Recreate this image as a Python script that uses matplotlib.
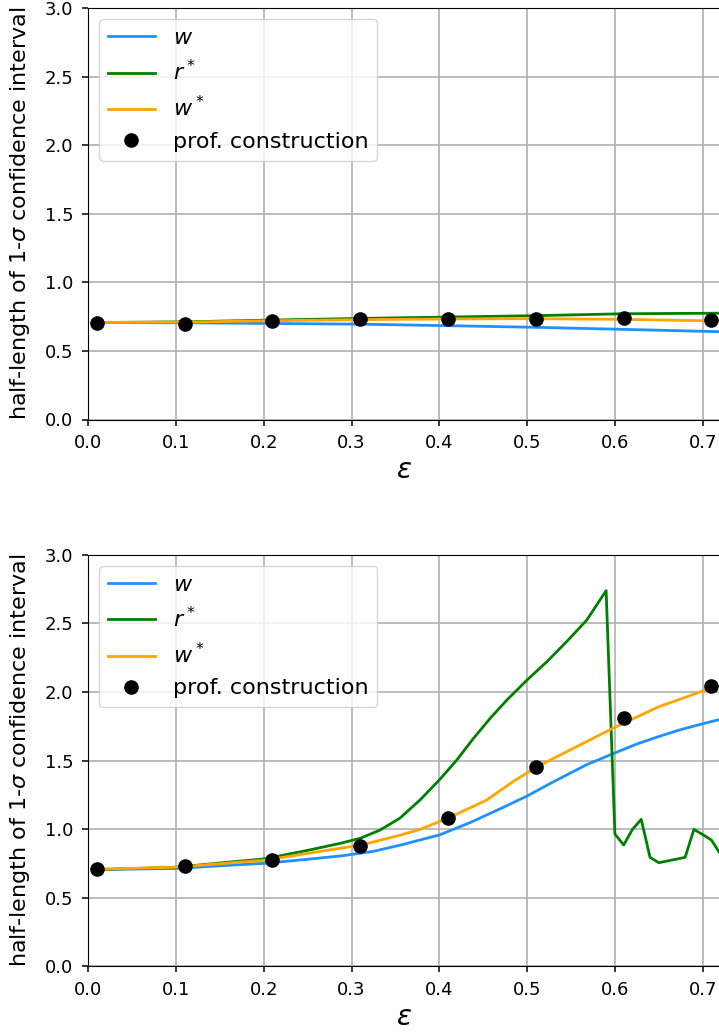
import numpy as np
import matplotlib
matplotlib.use("Agg")
import matplotlib.pyplot as plt

# ---------------- data: top panel ----------------
x_top_line = [0.01, 0.11, 0.21, 0.31, 0.41, 0.51, 0.61, 0.72]
top_w = [0.707, 0.705, 0.700, 0.695, 0.684, 0.672, 0.657, 0.640]
top_rstar = [0.707, 0.712, 0.725, 0.737, 0.747, 0.757, 0.771, 0.775]
top_wstar = [0.707, 0.710, 0.720, 0.728, 0.733, 0.735, 0.730, 0.718]

x_prof = [0.01, 0.11, 0.21, 0.31, 0.41, 0.51, 0.61, 0.71]
top_prof = [0.707, 0.699, 0.718, 0.731, 0.736, 0.736, 0.742, 0.729]

# ---------------- data: bottom panel ----------------
x_bot_w = [0.01, 0.10, 0.17, 0.20, 0.25, 0.29, 0.325, 0.36, 0.378, 0.40,
           0.435, 0.473, 0.50, 0.53, 0.568, 0.60, 0.625, 0.65, 0.675, 0.70,
           0.72]
bot_w = [0.705, 0.713, 0.740, 0.750, 0.780, 0.806, 0.838, 0.890, 0.921,
         0.957, 1.047, 1.159, 1.241, 1.345, 1.470, 1.555, 1.620, 1.675, 1.725,
         1.768, 1.800]

x_bot_wstar = [0.01, 0.10, 0.17, 0.20, 0.25, 0.287, 0.31, 0.356, 0.378,
               0.41, 0.454, 0.484, 0.51, 0.549, 0.60, 0.65, 0.68, 0.71]
bot_wstar = [0.707, 0.722, 0.758, 0.772, 0.823, 0.860, 0.882, 0.957, 0.998,
             1.080, 1.212, 1.346, 1.450, 1.577, 1.742, 1.892, 1.960, 2.030]

x_bot_rstar = [0.01, 0.10, 0.17, 0.20, 0.25, 0.287, 0.31, 0.3325, 0.355,
               0.378, 0.40, 0.42, 0.439, 0.458, 0.477, 0.50, 0.5225, 0.545,
               0.568, 0.59, 0.60, 0.61, 0.62, 0.63, 0.64, 0.65, 0.66, 0.67,
               0.68, 0.69, 0.70, 0.71, 0.72]
bot_rstar = [0.705, 0.722, 0.765, 0.782, 0.845, 0.896, 0.933, 0.993, 1.079,
             1.212, 1.358, 1.504, 1.662, 1.808, 1.941, 2.087, 2.220, 2.366,
             2.524, 2.738, 0.964, 0.884, 0.998, 1.071, 0.794, 0.755, 0.768,
             0.781, 0.794, 0.998, 0.960, 0.920, 0.820]

bot_prof = [0.707, 0.729, 0.772, 0.877, 1.080, 1.450, 1.808, 2.043]

# ---------------- styles ----------------
C_W = "#1E90FF"
C_R = "green"
C_WS = "orange"

yticks = [0.0, 0.5, 1.0, 1.5, 2.0, 2.5, 3.0]
xticks = [0.0, 0.1, 0.2, 0.3, 0.4, 0.5, 0.6, 0.7]

fig = plt.figure(figsize=(7.19, 10.32), dpi=100)
H = 1032.0
W = 719.0
left = 88.1 / W
xmax = (W - 88.1) / 878.0

ax1 = fig.add_axes([left, 1 - 419.5 / H, 1 - left, 411.5 / H])
ax2 = fig.add_axes([left, 1 - 966.3 / H, 1 - left, 411.6 / H])

panels = [
    (ax1, (x_top_line, top_w), (x_top_line, top_rstar), (x_top_line, top_wstar), top_prof),
    (ax2, (x_bot_w, bot_w), (x_bot_rstar, bot_rstar), (x_bot_wstar, bot_wstar), bot_prof),
]

for ax, w, r, ws, prof in panels:
    ax.plot(w[0], w[1], color=C_W, lw=2, label=r"$w$")
    ax.plot(r[0], r[1], color=C_R, lw=2, label=r"$r^*$")
    ax.plot(ws[0], ws[1], color=C_WS, lw=2, label=r"$w^*$")
    ax.plot(x_prof, prof, "o", color="black", ms=9.5, label="prof. construction",
            zorder=5)
    ax.set_xlim(0.0, xmax)
    ax.set_ylim(0.0, 3.0)
    ax.set_xticks(xticks)
    ax.set_yticks(yticks)
    ax.grid(True, color="#b0b0b0", lw=1.2)
    ax.set_axisbelow(True)
    ax.spines["right"].set_visible(False)
    ax.tick_params(labelsize=13, length=4.5, width=1.1, pad=6)
    ax.set_xlabel(r"$\varepsilon$", fontsize=20, labelpad=3)
    ax.set_ylabel(r"half-length of 1-$\sigma$ confidence interval", fontsize=16,
                  labelpad=9)
    ax.legend(loc="upper left", fontsize=16, handlelength=2.1)

fig.savefig("out.png", dpi=100)
